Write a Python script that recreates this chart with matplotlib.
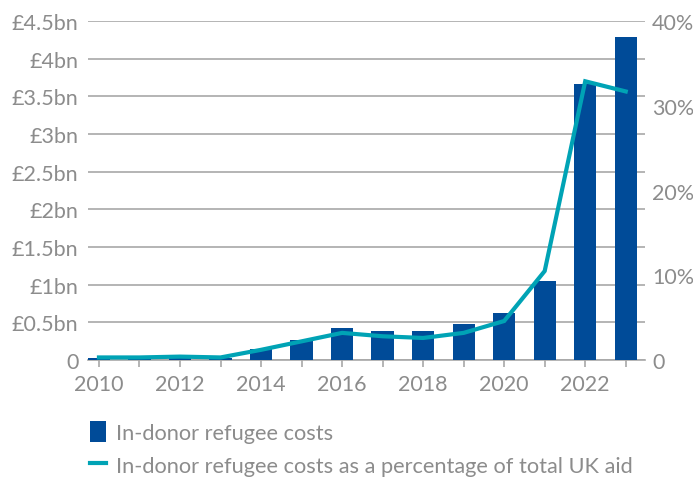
import numpy as np
import matplotlib.pyplot as plt
from matplotlib.lines import Line2D
from matplotlib.patches import Patch

# ------------------ DATA ------------------
years = [2010, 2011, 2012, 2013, 2014, 2015, 2016, 2017, 2018, 2019, 2020, 2021, 2022, 2023]
costs_bn = [0.02, 0.01, 0.03, 0.03, 0.15, 0.26, 0.42, 0.38, 0.38, 0.48, 0.63, 1.05, 3.67, 4.29]
pct_of_aid = [0.3, 0.3, 0.4, 0.3, 1.2, 2.2, 3.2, 2.8, 2.6, 3.2, 4.6, 10.5, 32.9, 31.7]
left_ticks = [0, 0.5, 1, 1.5, 2, 2.5, 3, 3.5, 4, 4.5]
left_labels = ['0', '£0.5bn', '£1bn', '£1.5bn', '£2bn', '£2.5bn', '£3bn', '£3.5bn', '£4bn', '£4.5bn']
right_ticks = [0, 10, 20, 30, 40]
right_labels = ['0', '10%', '20%', '30%', '40%']
x_ticks = [2010, 2012, 2014, 2016, 2018, 2020, 2022]
# ------------------------------------------

BAR_COLOR = '#004b98'
LINE_COLOR = '#00a3b5'
TEXT_COLOR = '#8c8c8c'
GRID_COLOR = '#a8a8a8'

plt.rcParams['font.family'] = ['Lato', 'DejaVu Sans']

fig = plt.figure(figsize=(6.93, 4.81), dpi=100)
ax = fig.add_axes([0.127, 0.2495, 0.804, 0.7045])

ax.bar(years, costs_bn, width=0.55, color=BAR_COLOR, zorder=3)
ax.set_ylim(0, 4.5)
ax.set_xlim(2009.73, 2023.48)
ax.set_yticks(left_ticks)
ax.set_yticklabels(left_labels)
ax.set_xticks(x_ticks)
ax.set_xticks(years, minor=True)
ax.grid(axis='y', color=GRID_COLOR, linewidth=1.2, zorder=0)

for s in ['top', 'right', 'left']:
    ax.spines[s].set_visible(False)
ax.spines['bottom'].set_color(GRID_COLOR)
ax.spines['bottom'].set_linewidth(1.2)
ax.tick_params(axis='y', length=0, pad=7, labelsize=15.5, labelcolor=TEXT_COLOR)
ax.tick_params(axis='x', which='both', length=5, color=GRID_COLOR, width=1.2,
               labelsize=15.5, labelcolor=TEXT_COLOR, pad=5)

ax2 = ax.twinx()
ax2.plot(years, pct_of_aid, color=LINE_COLOR, linewidth=3, zorder=4, solid_joinstyle='miter')
ax2.set_ylim(0, 40)
ax2.set_yticks(right_ticks)
ax2.set_yticklabels(right_labels)
for s in ['top', 'right', 'left', 'bottom']:
    ax2.spines[s].set_visible(False)
ax2.tick_params(axis='y', length=0, pad=5, labelsize=15.5, labelcolor=TEXT_COLOR)

handles = [Patch(facecolor=BAR_COLOR, edgecolor='none'),
           Line2D([0], [0], color=LINE_COLOR, linewidth=3)]
labels = ['In-donor refugee costs', 'In-donor refugee costs as a percentage of total UK aid']
fig.legend(handles, labels, loc='upper left', bbox_to_anchor=(0.13, 0.122),
           frameon=False, fontsize=15.7, labelcolor=TEXT_COLOR,
           handlelength=0.75, handleheight=1.1, handletextpad=0.45, labelspacing=0.5,
           borderaxespad=0, borderpad=0)

fig.savefig('out.png', dpi=100)
